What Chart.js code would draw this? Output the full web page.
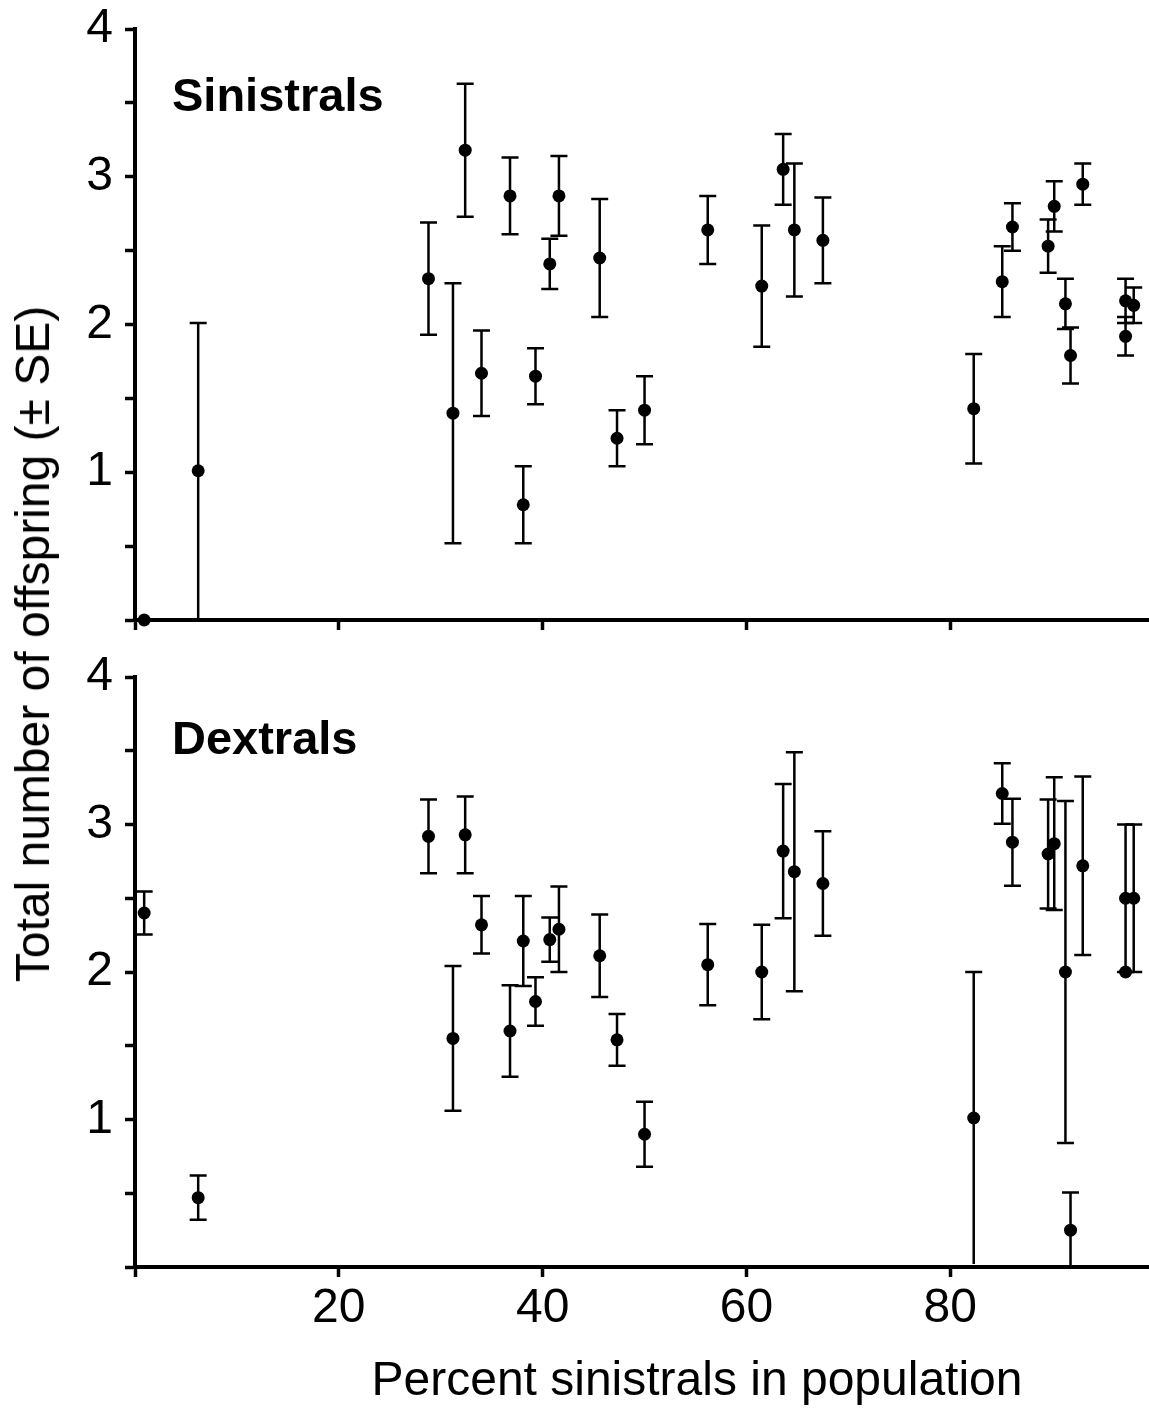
<!DOCTYPE html>
<html>
<head>
<meta charset="utf-8">
<script src="https://cdn.jsdelivr.net/npm/chart.js@4.4.1/dist/chart.umd.min.js"></script>
<style>
  html, body { margin: 0; padding: 0; background: #fff; }
  #wrap {
    position: relative; width: 1149px; height: 1412px; overflow: hidden;
    font-family: "Liberation Sans", Arial, sans-serif; color: #000;
  }
  canvas { position: absolute; left: 0; }
  #sinChart { top: 0; }
  #dexChart { top: 640px; }
  .ytitle {
    position: absolute; left: 33px; top: 644px; font-size: 48px; line-height: 48px;
    white-space: nowrap; transform: translate(-50%, -50%) rotate(-90deg);
  }
  .xtitle {
    position: absolute; left: 697px; top: 1355px; font-size: 48px; line-height: 48px;
    white-space: nowrap; transform: translateX(-50%);
  }
</style>
</head>
<body>
<div id="wrap">
  <canvas id="sinChart" width="1149" height="640"></canvas>
  <canvas id="dexChart" width="1149" height="772"></canvas>
  <div class="ytitle">Total number of offspring (± SE)</div>
  <div class="xtitle">Percent sinistrals in population</div>
</div>

<script>
// === DATA ===

// percent sinistrals in each population (shared by both panels)
const popX = [0.9, 6.2, 28.8, 31.2, 32.4, 34.0, 36.8, 38.1, 39.3, 40.7,
  41.6, 45.6, 47.3, 50.0, 56.2, 61.5, 63.6, 64.7, 67.5, 82.3,
  85.1, 86.1, 89.6, 90.2, 91.3, 91.8, 93.0, 97.2, 97.2, 98.0];

const sinMean = [0.00, 1.01, 2.31, 1.40, 3.18, 1.67, 2.87, 0.78, 1.65, 2.41,
  2.87, 2.45, 1.23, 1.42, 2.64, 2.26, 3.05, 2.64, 2.57, 1.43,
  2.29, 2.66, 2.53, 2.80, 2.14, 1.79, 2.95, 2.16, 1.92, 2.13];
const sinSE = [0, 1.00, 0.38, 0.88, 0.45, 0.29, 0.26, 0.26, 0.19, 0.17,
  0.27, 0.40, 0.19, 0.23, 0.23, 0.41, 0.24, 0.45, 0.29, 0.37,
  0.24, 0.16, 0.18, 0.17, 0.17, 0.19, 0.14, 0.15, 0.13, 0.12];

const dexMean = [2.40, 0.47, 2.92, 1.55, 2.93, 2.32, 1.60, 2.21, 1.80, 2.22,
  2.29, 2.11, 1.54, 0.90, 2.05, 2.00, 2.82, 2.68, 2.60, 1.01,
  3.21, 2.88, 2.80, 2.87, 2.00, 0.25, 2.72, 2.50, 2.00, 2.50];
const dexSE = [0.145, 0.15, 0.25, 0.49, 0.26, 0.195, 0.31, 0.305, 0.165, 0.15,
  0.29, 0.28, 0.175, 0.22, 0.275, 0.32, 0.455, 0.81, 0.355, 0.99,
  0.205, 0.295, 0.37, 0.45, 1.16, 0.255, 0.605, 0.50, 0, 0.50];

const xLabels = [20, 40, 60, 80];
const yLabels = [1, 2, 3, 4];

// === PLUGINS ===

const FONT = '"Liberation Sans", Arial, Helvetica, sans-serif';

const errorBars = {
  id: "errorBars",
  beforeDatasetsDraw(chart) {
    const { ctx, scales } = chart;
    chart.data.datasets.forEach(ds => {
      if (!ds.errors) return;
      ctx.save();
      ctx.strokeStyle = "#000";
      ctx.lineWidth = 2.5;
      ds.data.forEach((p, i) => {
        const se = ds.errors[i];
        if (!se) return;
        const px = scales.x.getPixelForValue(p.x);
        const lo = Math.max(0, p.y - se);
        const top = scales.y.getPixelForValue(p.y + se);
        const bot = scales.y.getPixelForValue(lo);
        ctx.beginPath();
        ctx.moveTo(px, top);
        ctx.lineTo(px, bot);
        ctx.moveTo(px - 8.5, top);
        ctx.lineTo(px + 8.5, top);
        // bars that run down to the axis have no lower cap
        if (lo > 0.05) {
          ctx.moveTo(px - 8.5, bot);
          ctx.lineTo(px + 8.5, bot);
        }
        ctx.stroke();
      });
      ctx.restore();
    });
  }
};

const panelLabel = {
  id: "panelLabel",
  afterDraw(chart, args, opts) {
    const { ctx, chartArea } = chart;
    ctx.save();
    ctx.font = "bold 47px " + FONT;
    ctx.fillStyle = "#000";
    ctx.textBaseline = "alphabetic";
    ctx.fillText(opts.text, chartArea.left + opts.dx, chartArea.top + opts.dy);
    ctx.restore();
  }
};

// === CHARTS ===

function makeChart(id, means, errs, cfg) {
  const points = popX.map((x, i) => ({ x: x, y: means[i] }));

  return new Chart(document.getElementById(id), {
    type: "scatter",
    data: {
      datasets: [{
        data: points,
        errors: errs,
        backgroundColor: "#000",
        borderWidth: 0,
        pointRadius: 6.5,
        pointHoverRadius: 6.5,
        clip: false
      }]
    },
    options: {
      responsive: false,
      animation: false,
      devicePixelRatio: 1,
      events: [],
      layout: { autoPadding: false, padding: { top: cfg.top, right: 0, bottom: 0, left: 0 } },
      plugins: {
        legend: { display: false },
        tooltip: { enabled: false },
        panelLabel: { text: cfg.label, dx: 37, dy: cfg.labelY }
      },
      scales: {
        x: {
          type: "linear",
          min: 0,
          max: 99.5,
          border: { display: true, color: "#000", width: 4 },
          grid: { drawOnChartArea: false, drawTicks: true, tickLength: 10, tickWidth: 3.5, tickColor: "#000" },
          ticks: {
            stepSize: 20,
            includeBounds: false,
            autoSkip: false,
            maxRotation: 0,
            padding: 8,
            color: "#000",
            font: { family: FONT, size: 48, lineHeight: 1 },
            callback: v => (cfg.showX && xLabels.includes(v) ? String(v) : "")
          },
          afterFit(s) {
            s.height = cfg.xHeight;
            s.paddingLeft = 0;
            s.paddingRight = 0;
          }
        },
        y: {
          type: "linear",
          min: 0,
          max: 4,
          border: { display: true, color: "#000", width: 4 },
          grid: { drawOnChartArea: false, drawTicks: true, tickLength: 10, tickWidth: 3.5, tickColor: "#000" },
          ticks: {
            stepSize: 0.5,
            padding: 12,
            color: "#000",
            font: { family: FONT, size: 48, lineHeight: 1 },
            callback: v => (yLabels.includes(v) ? String(v) : "")
          },
          afterFit(s) {
            s.width = 135;
            s.paddingTop = 0;
            s.paddingBottom = 0;
          }
        }
      }
    },
    plugins: [errorBars, panelLabel]
  });
}

makeChart("sinChart", sinMean, sinSE, {
  label: "Sinistrals", top: 29, labelY: 82, xHeight: 20, showX: false
});

makeChart("dexChart", dexMean, dexSE, {
  label: "Dextrals", top: 37, labelY: 77, xHeight: 145, showX: true
});
</script>
</body>
</html>
